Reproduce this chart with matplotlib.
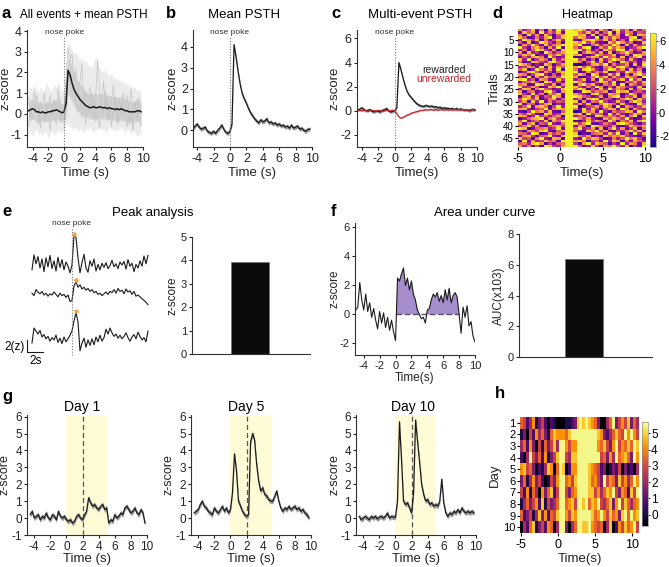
import numpy as np
import matplotlib
matplotlib.use("Agg")
import matplotlib.pyplot as plt
from matplotlib.transforms import blended_transform_factory

plt.rcParams['font.family'] = ['Liberation Sans', 'DejaVu Sans']
plt.rcParams['axes.unicode_minus'] = False

W, H = 669, 567

# ---------------- data ----------------
# traces of a, b, c, g share one time grid: -4.5 s, step 0.25 s
T_START, T_STEP = -4.5, 0.25

a_mean = [0.15, 0.2, 0.25, 0.2, 0.1, 0.1, 0.05, 0.1, 0.05, 0.05, 0.1, 0.1, 0.15, 0.15, 0.2, 0.15, 0.1, 0.05,
          0.1, 0.5,
          2.1, 1.9, 1.5, 1.2, 1.0, 0.85, 0.7, 0.6,
          0.5, 0.4, 0.35, 0.3, 0.3, 0.35, 0.3, 0.3, 0.35, 0.3,
          0.3, 0.3, 0.25, 0.3, 0.25, 0.25, 0.2, 0.25, 0.2, 0.25,
          0.2, 0.15, 0.15, 0.1, 0.1, 0.1, 0.1, 0.15, 0.15, 0.1]
a_outer_hi = [1.1, 1.3, 1.2, 1.4, 1.2, 1.0, 1.3, 1.1, 1.2, 1.5, 1.3, 1.1, 1.2, 1.4, 1.3, 1.6, 1.2, 1.1,
              1.0, 2.5,
              3.4, 3.3, 3.1, 2.9, 3.0, 2.8, 2.6, 2.7,
              2.5, 2.6, 2.3, 2.4, 2.2, 2.5, 2.8, 2.4, 2.2, 2.1,
              2.0, 2.2, 1.9, 1.8, 2.0, 1.7, 1.8, 1.6, 1.7, 1.5,
              1.6, 1.4, 1.5, 1.3, 1.4, 1.2, 1.3, 1.1, 1.2, 1.0]
a_outer_lo = [-1.0, -0.8, -1.1, -0.9, -0.7, -1.0, -0.9, -1.1, -0.8, -0.9, -1.2, -0.9, -0.8, -1.0, -0.9, -0.7, -0.9, -0.8,
              -0.9, -0.5,
              -0.4, -0.6, -0.7, -0.8, -0.6, -0.9, -0.7, -0.8,
              -0.9, -0.7, -0.8, -0.6, -0.8, -0.9, -0.7, -0.8, -0.6, -0.8,
              -0.7, -0.9, -0.8, -0.6, -0.8, -0.7, -0.9, -0.7, -0.8, -0.6,
              -0.8, -0.9, -0.7, -0.8, -1.0, -0.8, -0.9, -1.1, -1.0, -0.9]
a_inner_hi = [0.6, 0.7, 0.7, 0.65, 0.55, 0.6, 0.5, 0.55, 0.5, 0.55, 0.6, 0.55, 0.6, 0.65, 0.7, 0.6, 0.55, 0.5,
              0.5, 1.5,
              2.7, 2.6, 2.3, 2.0, 1.8, 1.6, 1.45, 1.35,
              1.2, 1.1, 1.0, 0.95, 0.95, 1.0, 1.0, 0.95, 1.0, 0.95,
              0.95, 0.9, 0.9, 0.9, 0.85, 0.85, 0.8, 0.85, 0.8, 0.8,
              0.75, 0.7, 0.7, 0.65, 0.6, 0.6, 0.6, 0.65, 0.6, 0.55]
a_inner_lo = [-0.35, -0.3, -0.25, -0.3, -0.4, -0.35, -0.4, -0.35, -0.4, -0.4, -0.35, -0.35, -0.3, -0.3, -0.25, -0.3, -0.35, -0.4,
              -0.35, -0.2,
              0.9, 0.8, 0.6, 0.4, 0.25, 0.1, 0.0, -0.05,
              -0.1, -0.15, -0.2, -0.25, -0.25, -0.2, -0.25, -0.25, -0.2, -0.25,
              -0.25, -0.25, -0.3, -0.25, -0.3, -0.3, -0.3, -0.3, -0.35, -0.3,
              -0.35, -0.35, -0.4, -0.4, -0.45, -0.4, -0.4, -0.35, -0.4, -0.45]
a_event1 = [0.8, -0.2, 0.5, 1.1, 0.3, -0.5, 0.6, 0.2, 1.0, -0.3, 0.4, 0.9, -0.1, 0.7, 0.2, 1.2, -0.4, 0.3,
            0.0, 1.8,
            3.2, 2.6, 2.9, 1.6, 2.2, 0.9, 1.5, 2.4,
            0.6, 1.1, 0.2, 1.3, 0.5, -0.3, 0.8, 2.6, 1.1, 0.4,
            1.6, 0.2, 0.9, -0.2, 0.6, 1.4, 0.3, -0.5, 0.7, 0.1,
            1.0, 0.4, -0.6, 0.5, 1.2, 0.0, 0.6, -0.3, 0.8, 0.2]
a_event2 = [-0.6, 0.3, -0.2, 0.1, 0.9, 0.4, -0.7, 0.0, -0.4, 0.6, -0.1, -0.8, 0.5, 0.0, -0.5, 0.2, 0.8, -0.3,
            -0.2, 0.9,
            2.2, 1.6, 0.8, 1.4, 0.5, 0.1, 0.9, -0.2,
            0.4, -0.5, 0.3, 0.0, 1.0, 0.6, -0.4, 0.2, -0.7, 0.5,
            0.0, 1.1, -0.3, 0.4, -0.6, 0.3, 0.8, 0.0, -0.4, 0.6,
            -0.2, 0.3, 0.9, -0.5, 0.1, -0.8, 0.4, 0.7, -0.2, -0.6]

b_mean = [0.05, 0.2, 0.3, 0.15, 0.05, 0.1, 0.15, -0.05, -0.1, -0.15, -0.05, -0.15, 0.0, 0.1, 0.25, 0.05, -0.1, -0.15,
          -0.05, 0.3,
          4.1, 3.5, 2.8, 2.2, 1.75, 1.5, 1.3, 1.05,
          0.85, 0.7, 0.55, 0.45, 0.35, 0.5, 0.4, 0.45, 0.55, 0.35,
          0.4, 0.3, 0.35, 0.25, 0.3, 0.2, 0.25, 0.15, 0.2, 0.1,
          0.25, 0.1, 0.15, 0.2, 0.05, 0.1, 0.0, -0.05, 0.05, 0.05]
b_sem = 0.1

c_rewarded = [0.05, 0.15, 0.25, 0.1, 0.0, 0.05, 0.1, -0.05, -0.1, 0.0, -0.05, -0.1, 0.05, 0.1, 0.2, 0.0, -0.1, -0.05,
              0.0, 0.3,
              4.0, 3.4, 2.7, 2.1, 1.6, 1.3, 1.1, 0.9,
              0.7, 0.55, 0.45, 0.4, 0.35, 0.45, 0.4, 0.35, 0.4, 0.3,
              0.35, 0.25, 0.3, 0.2, 0.25, 0.2, 0.2, 0.15, 0.2, 0.1,
              0.2, 0.1, 0.15, 0.1, 0.05, 0.1, 0.0, 0.05, 0.1, 0.05]
c_unrewarded = [0.0, 0.05, 0.0, 0.05, 0.0, -0.05, 0.0, 0.05, 0.0, 0.0, 0.05, 0.0, -0.05, 0.0, 0.05, 0.0, 0.0, 0.05,
                0.0, -0.25,
                -0.5, -0.6, -0.55, -0.45, -0.35, -0.3, -0.2, -0.15,
                -0.1, -0.05, 0.0, 0.05, 0.05, 0.1, 0.05, 0.1, 0.1, 0.05,
                0.1, 0.05, 0.1, 0.1, 0.05, 0.1, 0.05, 0.1, 0.05, 0.1,
                0.05, 0.1, 0.05, 0.1, 0.05, 0.1, 0.05, 0.1, 0.15, 0.1]
c_sem = 0.12

# heatmap d: 48 trials x 30 bins of 0.5 s (-5..10 s); digit d -> z = d - 2.5
d_rows = [
    "73582617394" "99" "89736285179472836",
    "28571936482" "99" "96483725918376254",
    "61937284157" "99" "97829163847295187",
    "85126379248" "99" "58732917486238915",
    "39748162583" "99" "21789648372519683",
    "52813974261" "99" "86947321859746128",
    "17495283679" "99" "79215836497182735",
    "94268517392" "99" "63891274958613479",
    "36159842718" "99" "89372518649927351",
    "72834196357" "99" "91586372814695237",
    "48691327584" "99" "78213964581372986",
    "25378619423" "99" "11268739562814792",
    "83924751836" "99" "94725183697528314",
    "61287438952" "99" "86159372841963527",
    "97513286147" "99" "00137859263471829",
    "34762918375" "99" "79584216738952146",
    "58139647291" "99" "62897315984728361",
    "13895274168" "99" "91273648125397582",
    "76248931527" "99" "58619723849162795",
    "42917385649" "99" "71136958274386519",
    "89351762184" "99" "35827194635829471",
    "25684197352" "99" "96412587391264738",
    "67129843716" "99" "27958316482917536",
    "93475128693" "99" "84263971528643182",
    "38716954238" "99" "69715283947518269",
    "71562389417" "99" "12984657139782453",
    "84293617582" "99" "75318942867139625",
    "16837254971" "99" "98542371689254817",
    "59748136825" "99" "36179825413697284",
    "47183926354" "99" "81726594238416973",
    "92651478132" "99" "47381169752832195",
    "35927861493" "99" "90245738619275348",
    "78314592687" "99" "62938415872961743",
    "21496738215" "99" "01857293164587296",
    "64852197348" "99" "78194652937314862",
    "87239463571" "99" "35621984753726918",
    "13578926843" "99" "96473217586493125",
    "59246381759" "99" "11384752961648279",
    "72681549326" "99" "84792136428975314",
    "46937215684" "99" "27519864372138657",
    "98125673492" "99" "69347281593724816",
    "31764892157" "99" "53186947215369472",
    "65398127463" "99" "80215673849251938",
    "27841569328" "99" "96472318576843215",
    "84516932871" "99" "32958741263596841",
    "19273485619" "99" "78614529387162753",
    "56389714256" "99" "41793865142937628",
    "73625198437" "99" "95238417695381429",
]

# panel e: three single-trial traces, grid -5 s step 0.25 s
E_START = -5.0
e_trace1 = [0.0, 2.5, 1.0, 2.2, 0.3, 1.8, -0.3, 2.0, 0.5, 2.4, 0.2, 1.5, -0.2, 2.1, 0.4, 1.7, 0.0, 1.3, 0.6, -0.5,
            0.8, 5.7,
            5.4, 2.0, -0.5, 1.2, 2.6, 0.3, -0.4, 1.5,
            0.6, 1.8, -0.2, 0.9, 0.0, 1.1, 0.4, 1.2, 0.2, 0.7,
            1.6, 0.5, 1.0, 0.2, 1.3, 0.8, 1.4, 0.1, 1.7, 0.6,
            1.1, -0.3, 0.9, 0.3, 1.5, 0.6, 2.3, 1.0, 2.4]
e_trace2 = [0.6, 0.2, 1.2, 0.8, 0.5, 0.9, 0.3, 0.6, 0.1, 0.5, 0.3, 0.8, 0.4, 0.0, 0.6, 0.2, 0.4, -0.1, 0.3, -0.8,
            -0.6, 1.8,
            2.5, 1.6, 2.0, 1.3, 1.6, 1.1, 1.4, 0.9,
            1.2, 0.7, 0.9, 0.4, 0.6, 0.2, 0.5, 0.8, 0.4, 0.9,
            0.7, 1.2, 0.6, 1.4, 0.9, 1.1, 0.5, 1.3, 0.8, 1.0,
            0.4, 0.9, 0.1, 0.3, 0.0, -0.3, -0.6, -0.9, -1.3]
e_trace3 = [-0.5, 2.0, 1.5, 1.0, 1.6, 0.5, 0.9, 0.2, 0.6, -0.2, 0.4, 0.0, 0.8, -0.4, 0.3, -0.6, 0.5, -0.3, 0.2, 0.8,
            1.5, 3.2,
            4.5, 3.0, -1.8, -0.5, 0.3, -1.2, 0.0, -0.9,
            0.2, -0.8, 0.5, -0.3, 0.8, -0.2, 0.4, 1.8, 1.0, 2.0,
            1.2, 0.6, 1.0, 0.3, 0.8, 0.2, 0.6, 1.2, 0.4, -0.2,
            0.5, 0.9, 0.2, 1.3, 0.6, 0.0, 0.4, -0.3, 1.5]
e_peak_mean = 3.95

# panel f: single trace, grid -5 s step 0.25 s
f_trace = [0.3, 0.5, 2.2, 1.0, 0.3, 1.4, 0.2, 0.8, -0.2, 0.4, -0.4, -1.0, 0.2, -0.6, 0.1, -0.9, -0.2, -1.1, -0.4, -1.2,
           -1.8,
           2.5, 2.3, 2.8, 3.2, 2.0, 2.5, 1.7,
           2.3, 1.4, 1.0, 0.3, 0.0, -0.3, -0.2, -0.6,
           0.3, 0.4, 1.0, 1.4, 1.2, 1.5, 0.9, 1.3,
           0.8, 1.7, 1.0, 1.8, 0.8, 1.3, 1.5, 1.2,
           0.0,
           -1.3, 0.5, -0.2, 0.6, -0.8, -0.5, -1.5, -1.9]
f_auc = 6.4
f_window = (0, 8)

# panel g: mean traces per day (same grid as a-c)
g_days = ["Day 1", "Day 5", "Day 10"]
g_day1 = [0.2, 0.4, 0.0, 0.1, 0.2, -0.1, 0.1, 0.0, 0.3, 0.0, -0.1, 0.2, 0.1, -0.1, 0.4, 0.1, 0.0, 0.1,
          -0.1, -0.2,
          -0.1, -0.3, -0.2, 0.1, 0.2, 0.0, -0.1, 0.2,
          0.4, 1.2, 0.9, 0.7, 0.8, 0.6, 0.5, 0.7, 0.8, 0.5,
          0.6, -0.3, -0.1, -0.2, 0.2, 0.0, 0.1, 0.3, 0.2, 0.6,
          0.7, 0.5, 0.3, 0.4, 0.6, 0.3, 0.2, 0.5, 0.3, -0.3]
g_day5 = [0.3, 0.4, 0.5, 0.8, 1.0, 0.7, 0.6, 0.4, 0.3, 0.2, 0.6, 0.4, 0.3, 0.5, 0.7, 0.4, 0.6, 0.3,
          0.5, 1.5,
          3.8, 2.8, 1.0, 0.7, 0.4, 0.2, 0.1, 0.2,
          4.5, 5.0, 4.6, 3.2, 2.2, 1.6, 1.8, 1.4, 1.3, 1.1,
          1.0, 1.0, 1.3, 1.6, 1.0, 0.6, 0.4, 0.6, 0.5, 0.7,
          0.5, 0.6, 0.7, 0.5, 0.6, 0.4, 0.5, 0.3, 0.2, 0.0]
g_day10 = [0.1, -0.1, 0.0, 0.1, 0.0, -0.1, 0.1, 0.0, 0.1, -0.05, 0.05, 0.1, 0.0, 0.1, 0.3, 0.0, 0.1, 0.05,
           0.05, 1.0,
           5.7, 3.5, 1.0, 0.8, 0.9, 0.6, 0.3, 1.5,
           5.8, 4.5, 3.3, 2.0, 1.4, 1.0, 1.1, 0.8, 0.9, 0.7,
           0.8, 0.7, 1.0, 2.3, 0.9, 0.3, 0.1, 0.3, 0.2, 0.4,
           0.3, 0.5, 0.3, 0.6, 0.4, 0.3, 0.4, 0.3, 0.4, 0.3]
g_sem = 0.15
g_window = (0, 5)
g_cue = 2

# heatmap h: 10 days x 40 bins of 0.4 s (-5.1..10.9 s); digit d -> z = -0.6 + 0.68 d
h_rows = [
    "6524713520210" "001123" "898987630046935758364",
    "1305274631687" "776899" "999999987324686597975",
    "4627305163584" "997577" "999999976853795768698",
    "2049536271358" "995488" "999999995637496786397",
    "7856302148706" "980277" "999987652301325031204",
    "3614735201537" "996758" "999986753957638574697",
    "5271640736825" "995367" "999988574687953762859",
    "1463572815346" "996785" "998968795468379586467",
    "6235148372658" "997587" "999998679758673896978",
    "0426813527604" "993046" "998897656048027586795",
]

for r in d_rows:
    assert len(r) == 30, r
for r in h_rows:
    assert len(r) == 40, r

# ---------------- helpers ----------------
fig = plt.figure(figsize=(W / 100, H / 100), dpi=100)
INK = '#1a1a1a'


def add_ax(l, t, r, b):
    return fig.add_axes([l / W, 1 - b / H, (r - l) / W, (b - t) / H])


def style(ax, size, pad=2.0):
    for s in ['top', 'right']:
        ax.spines[s].set_visible(False)
    for s in ['left', 'bottom']:
        ax.spines[s].set_linewidth(0.8)
        ax.spines[s].set_color('#333333')
    ax.tick_params(labelsize=size, length=2.5, width=0.8, pad=pad, colors='#222222')
    ax.tick_params(axis='y', pad=1.2)


def ylab(ax, text, px_right, size):
    pos = ax.get_position()
    ax.set_ylabel(text, fontsize=size, color='#222222')
    ax.yaxis.set_label_coords((px_right / W - pos.x0) / pos.width, 0.5)


def xlab(ax, text, py_top, size):
    pos = ax.get_position()
    ax.set_xlabel(text, fontsize=size, color='#222222')
    ax.xaxis.set_label_coords(0.5, (1 - py_top / H - pos.y0) / pos.height)


def ftext(x, y, s, **kw):
    fig.text(x / W, 1 - y / H, s, **kw)


def nose_poke(ax, top_frac=0.94):
    tr = blended_transform_factory(ax.transData, ax.transAxes)
    ax.plot([0, 0], [0, top_frac], ls=(0, (1, 1.5)), color='#777777', lw=0.8, transform=tr)
    ax.text(0, top_frac + 0.035, 'nose poke', transform=tr, ha='center', va='center', fontsize=6, color='#333333')


def panel_label(x, y, s):
    ftext(x, y, s, fontsize=12, fontweight='bold', ha='left', va='center')


t = T_START + T_STEP * np.arange(len(a_mean))

# ---------------- a ----------------
ax = add_ax(27, 30, 143, 147)
ax.fill_between(t, a_outer_lo, a_outer_hi, color='#ebebeb', lw=0)
ax.fill_between(t, a_inner_lo, a_inner_hi, color='#d2d2d2', lw=0)
ax.plot(t, a_event1, color='#c4c4c4', lw=0.5)
ax.plot(t, a_event2, color='#c4c4c4', lw=0.5)
ax.plot(t, a_mean, color=INK, lw=1.1)
ax.set_xlim(-4.7, 10)
ax.set_ylim(-1.6, 4.05)
ax.set_xticks(range(-4, 11, 2))
ax.set_yticks(range(-1, 5))
style(ax, 9)
nose_poke(ax)
ylab(ax, 'z-score', 11, 9.5)
xlab(ax, 'Time (s)', 167, 9.5)
panel_label(2, 13, 'a')
ftext(84, 15, 'All events + mean PSTH', fontsize=8.4, ha='center', va='center')

# ---------------- b ----------------
ax = add_ax(193, 30, 312, 147)
bm = np.array(b_mean)
ax.fill_between(t, bm - b_sem, bm + b_sem, color='#9c9c9c', lw=0)
ax.plot(t, bm, color=INK, lw=0.9)
ax.set_xlim(-4.5, 10)
ax.set_ylim(-0.8, 4.8)
ax.set_xticks(range(-4, 11, 2))
ax.set_yticks(range(0, 5))
style(ax, 9)
nose_poke(ax)
ylab(ax, 'z-score', 178, 9.5)
xlab(ax, 'Time (s)', 167, 9.5)
panel_label(166, 13, 'b')
ftext(244, 15, 'Mean PSTH', fontsize=9.5, ha='center', va='center')

# ---------------- c ----------------
ax = add_ax(357, 30, 477, 147)
cr = np.array(c_rewarded)
cu = np.array(c_unrewarded)
ax.fill_between(t, cr - c_sem, cr + c_sem, color='#9c9c9c', lw=0)
ax.plot(t, cr, color=INK, lw=0.9)
ax.fill_between(t, cu - 0.06, cu + 0.06, color='#e8a0a0', lw=0)
ax.plot(t, cu, color='#c1272d', lw=0.9)
ax.set_xlim(-4.6, 10)
ax.set_ylim(-3, 6.7)
ax.set_xticks(range(-4, 11, 2))
ax.set_yticks(range(-2, 7, 2))
style(ax, 9)
nose_poke(ax)
ylab(ax, 'z-score', 340, 9.5)
xlab(ax, 'Time(s)', 167, 9.5)
ftext(466, 70, 'rewarded', fontsize=7.5, ha='right', va='center', color='#222222')
ftext(471, 79, 'unrewarded', fontsize=7.5, ha='right', va='center', color='#c1272d')
panel_label(331, 13, 'c')
ftext(420, 15, 'Multi-event PSTH', fontsize=9.5, ha='center', va='center')

# ---------------- d ----------------
ax = add_ax(518, 29, 645, 147)
d_vals = np.array([[int(ch) - 2.5 for ch in row] for row in d_rows])
im = ax.imshow(d_vals, cmap='plasma', vmin=-2.9, vmax=6.7, aspect='auto',
               interpolation='nearest', extent=(-5, 10, 48.5, 0.5))
ax.set_xticks([-5, 0, 5, 10])
ax.set_yticks(range(5, 48, 5))
for s in ax.spines.values():
    s.set_visible(False)
ax.tick_params(labelsize=9, length=2.5, width=0.8, pad=2)
ax.tick_params(axis='y', labelsize=7, length=2, pad=1)
ylab(ax, 'Trials', 501, 9.5)
xlab(ax, 'Time(s)', 167, 9.5)
cax = add_ax(650, 33, 656, 147)
cb = fig.colorbar(im, cax=cax, ticks=[-2, 0, 2, 4, 6])
cb.outline.set_linewidth(0.5)
cb.outline.set_edgecolor('#888888')
cax.tick_params(labelsize=8, length=1.2, width=0.6, pad=1)
panel_label(492, 13, 'd')
ftext(587, 15, 'Heatmap', fontsize=9, ha='center', va='center')

# ---------------- e ----------------
ax = add_ax(30, 225, 150, 358)
et = E_START + T_STEP * np.arange(len(e_trace1))
for tr_vals, base in zip([e_trace1, e_trace2, e_trace3], [14.7, 10.2, 3.0]):
    y = np.array(tr_vals) + base
    ax.plot(et, y, color=INK, lw=0.8)
    k = int(np.argmax(y))
    ax.plot(et[k], y[k] + 0.3, 'o', color='#f7a241', ms=3.2, mec='none', zorder=5)
ax.plot([0, 0], [0.5, 21.7], ls=(0, (1, 1.5)), color='#777777', lw=0.8)
ax.text(0, 22.4, 'nose poke', ha='center', va='center', fontsize=6, color='#333333', clip_on=False)
ax.plot([-5.625, -5.625, -3.625], [3.0, 1.0, 1.0], color=INK, lw=0.8, clip_on=False)
ax.text(-5.85, 1.8, '2(z)', ha='right', va='center', fontsize=8.5, clip_on=False)
ax.text(-4.6, -0.5, '2s', ha='center', va='center', fontsize=8.5, clip_on=False)
ax.set_xlim(-5.25, 9.75)
ax.set_ylim(0, 22.17)
ax.axis('off')

ax = add_ax(192, 237, 310, 354)
ax.bar([0.49], [e_peak_mean], width=0.32, color='#0a0c0c', edgecolor='#777777', lw=0.6)
ax.set_xlim(0, 1)
ax.set_ylim(0, 5)
ax.set_xticks([])
ax.set_yticks(range(0, 6))
style(ax, 8)
ylab(ax, 'z-score', 178, 8.5)
panel_label(2, 212, 'e')
ftext(153, 213, 'Peak analysis', fontsize=9.5, ha='center', va='center')

# ---------------- f ----------------
ax = add_ax(355, 223, 475, 355)
ft = E_START + T_STEP * np.arange(len(f_trace))
fv = np.array(f_trace)
mask = (ft >= f_window[0]) & (ft <= f_window[1])
ax.fill_between(ft, 0, fv, where=mask & (fv > 0), interpolate=True, color='#a68dcb', lw=0)
ax.plot(list(f_window), [0, 0], ls=(0, (4, 2)), color='#5e4a78', lw=1.0)
ax.plot(ft, fv, color=INK, lw=0.8)
ax.set_xlim(-5.1, 10)
ax.set_ylim(-2.8, 6.3)
ax.set_xticks(range(-4, 11, 2))
ax.set_yticks(range(-2, 7, 2))
style(ax, 8)
ylab(ax, 'z-score', 341, 8.5)
xlab(ax, 'Time(s)', 372, 8.5)

ax = add_ax(519, 234, 652, 357)
ax.bar([0.49], [f_auc], width=0.29, color='#0a0c0c', edgecolor='#777777', lw=0.6)
ax.set_xlim(0, 1)
ax.set_ylim(0, 8)
ax.set_xticks([])
ax.set_yticks(range(0, 9, 2))
style(ax, 8)
ylab(ax, 'AUC(x103)', 505, 8.5)
panel_label(331, 212, 'f')
ftext(485, 213, 'Area under curve', fontsize=9.5, ha='center', va='center')

# ---------------- g ----------------
g_lefts = [27, 191, 356]
g_ylab_x = [11, 175, 340]
g_title_x = [82, 246, 413]
for vals, name, l, yx, tx in zip([g_day1, g_day5, g_day10], g_days, g_lefts, g_ylab_x, g_title_x):
    ax = add_ax(l, 415, l + 120, 535)
    v = np.array(vals)
    ax.axvspan(g_window[0], g_window[1], color='#fffbd6', lw=0, zorder=0)
    ax.axvline(g_cue, color='#555555', lw=0.9, ls=(0, (4, 2.5)), zorder=1)
    ax.fill_between(t, v - g_sem, v + g_sem, color='#9c9c9c', lw=0, zorder=2)
    ax.plot(t, v, color=INK, lw=0.9, zorder=3)
    ax.set_xlim(-4.9, 10)
    ax.set_ylim(-1, 6.1)
    ax.set_xticks(range(-4, 11, 2))
    ax.set_yticks(range(-1, 7))
    style(ax, 8.5)
    ylab(ax, 'z-score', yx, 9)
    xlab(ax, 'Time (s)', 553, 9.5)
    ftext(tx, 407, name, fontsize=10, ha='center', va='center')
panel_label(2, 396, 'g')

# ---------------- h ----------------
ax = add_ax(520, 417, 639, 533)
h_vals = np.array([[-0.6 + 0.68 * int(ch) for ch in row] for row in h_rows])
im = ax.imshow(h_vals, cmap='inferno', vmin=-0.7, vmax=5.7, aspect='auto',
               interpolation='nearest', extent=(-5.1, 10.9, 10.5, 0.5))
ax.set_xticks([-5, 0, 5, 10])
ax.set_yticks(range(1, 11))
for s in ax.spines.values():
    s.set_visible(False)
ax.tick_params(labelsize=9, length=2.5, width=0.8, pad=2)
ax.tick_params(axis='y', labelsize=8, length=2, pad=1)
ylab(ax, 'Day', 501, 9.5)
xlab(ax, 'Time(s)', 553, 9.5)
cax = add_ax(642, 422, 648, 526)
cb = fig.colorbar(im, cax=cax, ticks=range(0, 6))
cb.outline.set_linewidth(0.5)
cb.outline.set_edgecolor('#888888')
cax.tick_params(labelsize=8.5, length=1.2, width=0.6, pad=1)
panel_label(495, 393, 'h')

fig.savefig('out.png', dpi=100)
